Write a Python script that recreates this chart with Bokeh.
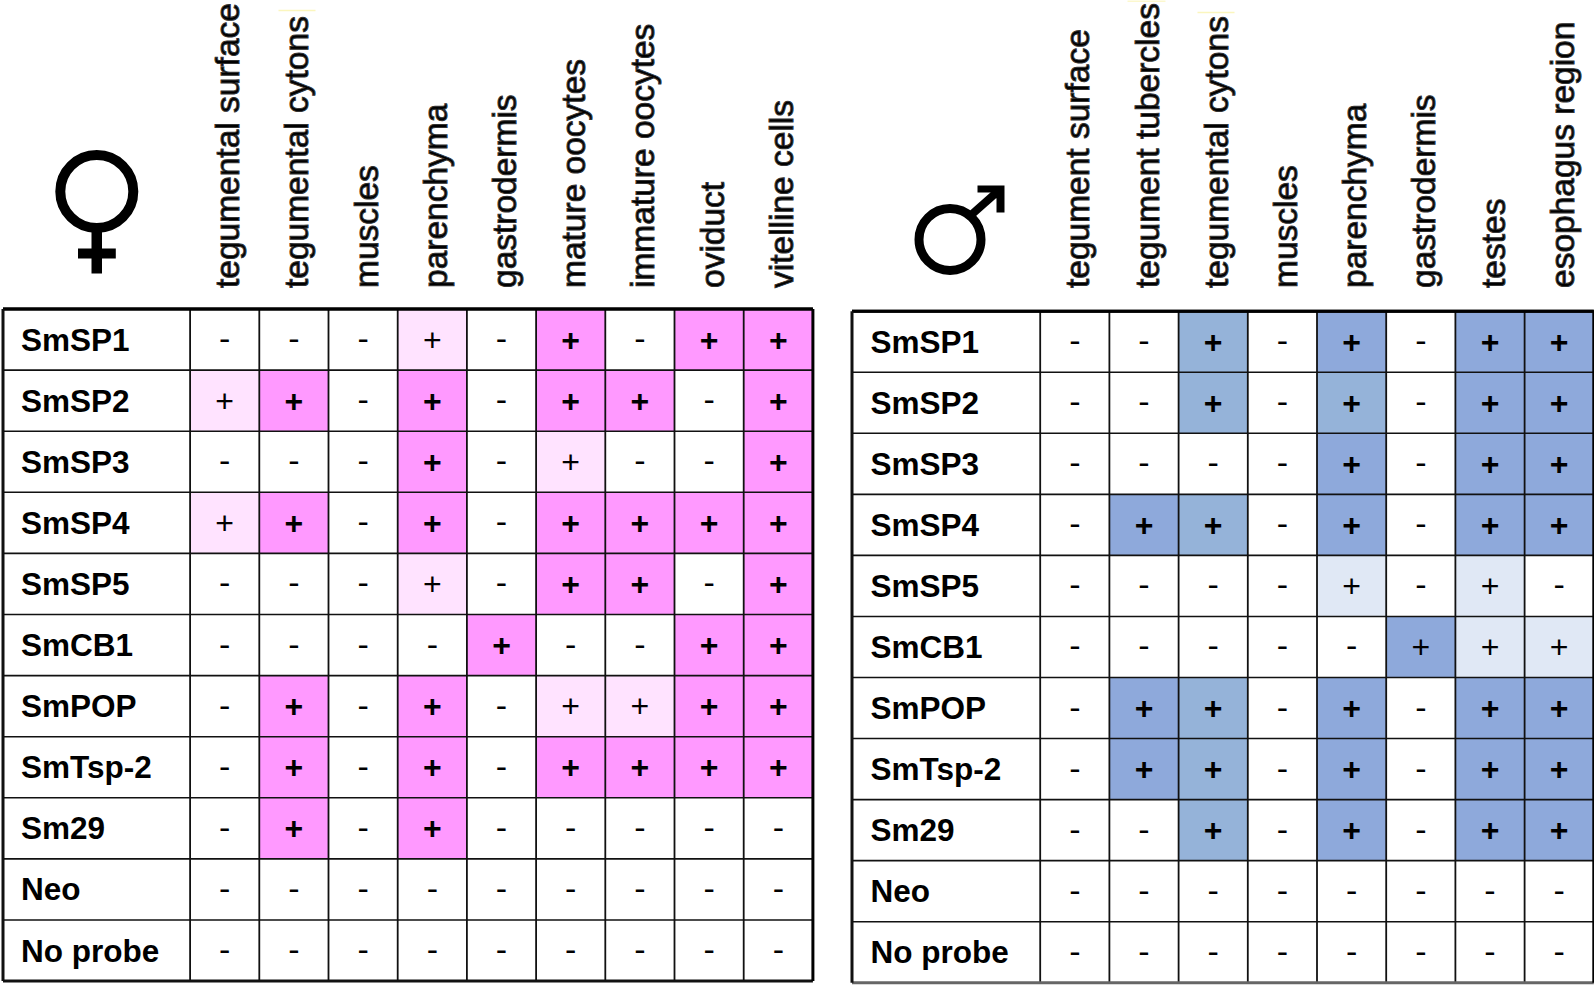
import math
from bokeh.plotting import figure
from bokeh.models import ColumnDataSource, Range1d
from bokeh.core.properties import value
from bokeh.embed import file_html
from bokeh.resources import INLINE

row_labels = ["SmSP1", "SmSP2", "SmSP3", "SmSP4", "SmSP5", "SmCB1", "SmPOP", "SmTsp-2", "Sm29", "Neo", "No probe"]
female_columns = ["tegumental surface", "tegumental cytons", "muscles", "parenchyma", "gastrodermis",
                  "mature oocytes", "immature oocytes", "oviduct", "vitelline cells"]
male_columns = ["tegument surface", "tegument tubercles", "tegumental cytons", "muscles", "parenchyma",
                "gastrodermis", "testes", "esophagus region"]

# 0 = negative, 1 = weak, 2 = strong, 3 = strong (second shade), 4 = strong shade with a thin plus
female_levels = [
    [0, 0, 0, 1, 0, 2, 0, 2, 2],
    [1, 2, 0, 2, 0, 2, 2, 0, 2],
    [0, 0, 0, 2, 0, 1, 0, 0, 2],
    [1, 2, 0, 2, 0, 2, 2, 2, 2],
    [0, 0, 0, 1, 0, 2, 2, 0, 2],
    [0, 0, 0, 0, 2, 0, 0, 2, 2],
    [0, 2, 0, 2, 0, 1, 1, 2, 2],
    [0, 2, 0, 2, 0, 2, 2, 2, 2],
    [0, 2, 0, 2, 0, 0, 0, 0, 0],
    [0, 0, 0, 0, 0, 0, 0, 0, 0],
    [0, 0, 0, 0, 0, 0, 0, 0, 0],
]
male_levels = [
    [0, 0, 3, 0, 2, 0, 2, 2],
    [0, 0, 3, 0, 3, 0, 2, 2],
    [0, 0, 0, 0, 2, 0, 2, 2],
    [0, 2, 3, 0, 2, 0, 2, 2],
    [0, 0, 0, 0, 1, 0, 1, 0],
    [0, 0, 0, 0, 0, 4, 1, 1],
    [0, 2, 3, 0, 2, 0, 2, 2],
    [0, 2, 3, 0, 2, 0, 2, 2],
    [0, 0, 3, 0, 2, 0, 2, 2],
    [0, 0, 0, 0, 0, 0, 0, 0],
    [0, 0, 0, 0, 0, 0, 0, 0],
]

female_colors = {0: "#FFFFFF", 1: "#FFE3FF", 2: "#FF99FF"}
male_colors = {0: "#FFFFFF", 1: "#E0E8F5", 2: "#8EA9DB", 3: "#95B3D9", 4: "#8EA9DB"}

FONT = "Liberation Sans"
W, H = 1594, 985
p = figure(width=W, height=H, x_range=Range1d(0, 1594), y_range=Range1d(985, 0),
           output_backend="svg", toolbar_location=None, min_border=0,
           x_axis_type=None, y_axis_type=None, outline_line_color=None)
p.xgrid.visible = False
p.ygrid.visible = False
p.background_fill_color = "#FFFFFF"


def table(left, first_col, top, col_w, row_h, columns, levels, colors, label_x,
          outer_bottom_color, outer_left_color):
    n_col = len(columns)
    n_row = len(row_labels)
    right = first_col + n_col * col_w
    bottom = top + n_row * row_h
    cells = dict(l=[], r=[], t=[], b=[], c=[])
    plus_bold = dict(x=[], y=[])
    plus_thin = dict(x=[], y=[])
    minus = dict(x=[], y=[])
    for i, row in enumerate(levels):
        for j, lev in enumerate(row):
            cx = first_col + (j + 0.5) * col_w
            cy = top + (i + 0.5) * row_h
            if lev:
                cells["l"].append(first_col + j * col_w)
                cells["r"].append(first_col + (j + 1) * col_w)
                cells["t"].append(top + i * row_h)
                cells["b"].append(top + (i + 1) * row_h)
                cells["c"].append(colors[lev])
            if lev == 0:
                minus["x"].append(cx); minus["y"].append(cy - 1)
            elif lev in (1, 4):
                plus_thin["x"].append(cx); plus_thin["y"].append(cy)
            else:
                plus_bold["x"].append(cx); plus_bold["y"].append(cy)
    p.quad(left="l", right="r", top="t", bottom="b", fill_color="c", line_color=None,
           source=ColumnDataSource(cells))
    # grid lines
    xs = [first_col + j * col_w for j in range(n_col)]
    p.segment(x0=xs, x1=xs, y0=[top] * n_col, y1=[bottom] * n_col, line_color="#111111", line_width=1.8)
    ys = [top + i * row_h for i in range(1, n_row)]
    p.segment(x0=[left] * len(ys), x1=[right] * len(ys), y0=ys, y1=ys, line_color="#111111", line_width=1.6)
    # outer frame
    p.segment(x0=[left, left], x1=[right, right], y0=[top, top], y1=[top, top], line_color="#000000", line_width=3)
    p.segment(x0=[left], x1=[right], y0=[bottom], y1=[bottom], line_color=outer_bottom_color, line_width=3)
    p.segment(x0=[left], x1=[left], y0=[top], y1=[bottom], line_color=outer_left_color, line_width=3)
    p.segment(x0=[right], x1=[right], y0=[top], y1=[bottom], line_color="#000000", line_width=3)
    # cell marks
    p.text(x="x", y="y", text=value("+"), text_font=value(FONT), text_font_style="bold",
           text_font_size="32px", text_align="center", text_baseline="middle", text_color="#000000",
           source=ColumnDataSource(plus_bold))
    p.text(x="x", y="y", text=value("+"), text_font=value(FONT), text_font_style="normal",
           text_font_size="32px", text_align="center", text_baseline="middle", text_color="#000000",
           source=ColumnDataSource(plus_thin))
    p.text(x="x", y="y", text=value("-"), text_font=value(FONT), text_font_style="normal",
           text_font_size="34px", text_align="center", text_baseline="middle", text_color="#000000",
           source=ColumnDataSource(minus))
    # row labels
    p.text(x=[label_x] * n_row, y=[top + (i + 0.5) * row_h for i in range(n_row)], text=row_labels,
           text_font=value(FONT), text_font_style="bold", text_font_size="31.5px",
           text_align="left", text_baseline="middle", text_color="#000000")
    # column headers
    p.text(x=[first_col + (j + 0.5) * col_w + 3 for j in range(n_col)], y=[287.5] * n_col, text=columns,
           angle=math.pi / 2, text_font=value(FONT), text_font_size="33.5px",
           text_align="left", text_baseline="middle", text_color="#000000", outline_color="#333333")


table(2.5, 189.6, 308.5, 69.2, 61.1, female_columns, female_levels, female_colors, 20.5, "#111111", "#111111")
table(851.5, 1039.7, 310.7, 69.2, 61.05, male_columns, male_levels, male_colors, 870, "#666666", "#111111")

# faint scan artefacts above the header labels
p.segment(x0=[278, 1127, 1197], x1=[315, 1165, 1234], y0=[10, 0.5, 12], y1=[10, 0.5, 12],
          line_color="#FBF6BE", line_width=1.5)

# female symbol
p.ellipse(x=[96.3], y=[191], width=[73], height=[73], fill_color=None, line_color="#000000", line_width=10)
p.quad(left=[91], right=[101.5], top=[228], bottom=[273], fill_color="#000000", line_color=None)
p.quad(left=[77.5], right=[115.3], top=[248], bottom=[258], fill_color="#000000", line_color=None)

# male symbol
p.ellipse(x=[949.5], y=[239], width=[62], height=[62], fill_color=None, line_color="#000000", line_width=9)
p.segment(x0=[970], y0=[215], x1=[996], y1=[192], line_color="#000000", line_width=8)
p.patch(x=[977, 1004, 1004, 996, 996, 990, 977], y=[185, 185, 212, 212, 198, 192, 192], fill_color="#000000", line_color=None)

open("out.html", "w").write(file_html(p, INLINE))
